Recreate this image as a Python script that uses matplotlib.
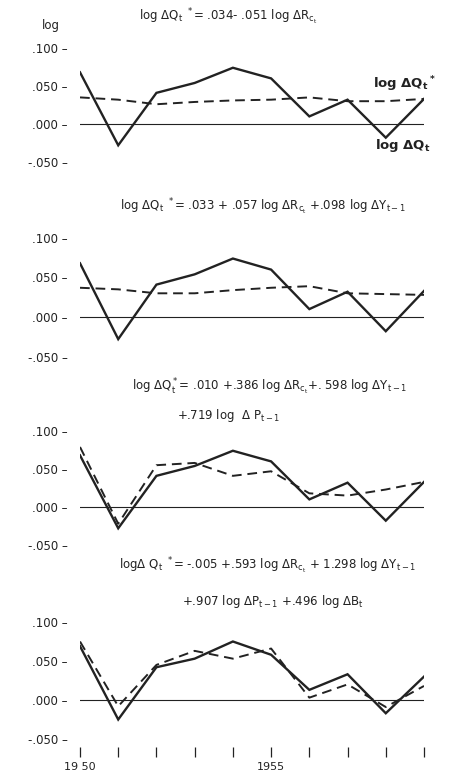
import matplotlib
matplotlib.use("Agg")
import matplotlib.pyplot as plt

plt.rcParams['font.family'] = ['DejaVu Sans']
plt.rcParams['mathtext.default'] = 'regular'

years = [1950, 1951, 1952, 1953, 1954, 1955, 1956, 1957, 1958, 1959]
actual = [0.068, -0.028, 0.041, 0.054, 0.074, 0.060, 0.010, 0.032, -0.018, 0.033]
actual4 = [0.069, -0.025, 0.042, 0.053, 0.075, 0.058, 0.013, 0.033, -0.017, 0.030]
est1 = [0.035, 0.032, 0.026, 0.029, 0.031, 0.032, 0.035, 0.030, 0.030, 0.033]
est2 = [0.037, 0.035, 0.030, 0.030, 0.034, 0.037, 0.039, 0.030, 0.029, 0.028]
est3 = [0.079, -0.022, 0.055, 0.058, 0.041, 0.047, 0.018, 0.015, 0.023, 0.033]
est4 = [0.075, -0.008, 0.045, 0.063, 0.053, 0.066, 0.003, 0.020, -0.009, 0.018]

ytick_vals = [-0.05, 0.0, 0.05, 0.10]
ytick_labels = ["-.050 –", ".000 –", ".050 –", ".100 –"]
xtick_labels = ["19 50", "", "", "", "", "1955", "", "", "", ""]

titles = [
    [r"log $\Delta$Q$_t$ $^*$= .034- .051 log $\Delta$R$_{c_t}$"],
    [r"log $\Delta$Q$_t$ $^*$= .033 + .057 log $\Delta$R$_{c_t}$ +.098 log $\Delta$Y$_{t-1}$"],
    [r"log $\Delta$Q$_t^*$= .010 +.386 log $\Delta$R$_{c_t}$+. 598 log $\Delta$Y$_{t-1}$",
     r"+.719 log  $\Delta$ P$_{t-1}$"],
    [r"log$\Delta$ Q$_t$ $^*$= -.005 +.593 log $\Delta$R$_{c_t}$ + 1.298 log $\Delta$Y$_{t-1}$",
     r"+.907 log $\Delta$P$_{t-1}$ +.496 log $\Delta$B$_t$"],
]

W, H = 462, 779
fig = plt.figure(figsize=(W / 100, H / 100), dpi=100)
fig.patch.set_facecolor("white")

ink = "#222222"
# (zero pixel, px per unit) for each panel
panels = [(124, 760), (317, 790), (507, 760), (700, 780)]
series = [(actual, est1), (actual, est2), (actual, est3), (actual4, est4)]
ylo, yhi = -0.06, 0.11
x_left, x_right = 80, 424

axes = []
for i, ((zpx, ppu), (sol, das)) in enumerate(zip(panels, series)):
    bottom_px = zpx - ylo * ppu
    top_px = zpx - yhi * ppu
    ax = fig.add_axes([x_left / W, 1 - bottom_px / H, (x_right - x_left) / W,
                       (bottom_px - top_px) / H])
    ax.set_xlim(1950, 1959)
    ax.set_ylim(ylo, yhi)
    for s in ax.spines.values():
        s.set_visible(False)
    ax.axhline(0, color=ink, lw=0.8, zorder=1)
    ax.plot(years, sol, color=ink, lw=1.7, solid_joinstyle="miter", zorder=3)
    ax.plot(years, das, color=ink, lw=1.4, dashes=(5, 3), zorder=2)
    ax.set_yticks(ytick_vals)
    ax.set_yticklabels(ytick_labels, fontsize=8.5, color=ink)
    ax.tick_params(axis="y", length=0, pad=9)
    ax.patch.set_alpha(0)
    if i < 3:
        ax.set_xticks([])
    else:
        ax.set_xticks(years)
        ax.set_xticklabels(xtick_labels, fontsize=8, color=ink)
        ax.tick_params(axis="x", direction="out", length=7, width=0.9,
                       color=ink, pad=4)
    axes.append(ax)

# titles
fig.text(228 / W, 1 - 17 / H, titles[0][0], ha="center", va="center", fontsize=8.5, color=ink)
fig.text(263 / W, 1 - 207 / H, titles[1][0], ha="center", va="center", fontsize=8.5, color=ink)
fig.text(270 / W, 1 - 387 / H, titles[2][0], ha="center", va="center", fontsize=8.5, color=ink)
fig.text(229 / W, 1 - 415 / H, titles[2][1], ha="center", va="center", fontsize=8.5, color=ink)
fig.text(268 / W, 1 - 566 / H, titles[3][0], ha="center", va="center", fontsize=8.5, color=ink)
fig.text(273 / W, 1 - 602 / H, titles[3][1], ha="center", va="center", fontsize=8.5, color=ink)

fig.text(51 / W, 1 - 26 / H, "log", ha="center", va="center", fontsize=8.5, color=ink)

# series labels in first panel
fig.text(404 / W, 1 - 84 / H, r"log $\Delta$Q$_t$$^*$", ha="center", va="center",
         fontsize=9.5, color=ink, fontweight="bold")
fig.text(403 / W, 1 - 146 / H, r"log $\Delta$Q$_t$", ha="center", va="center",
         fontsize=9.5, color=ink, fontweight="bold")

fig.savefig("out.png", dpi=100, facecolor="white")
